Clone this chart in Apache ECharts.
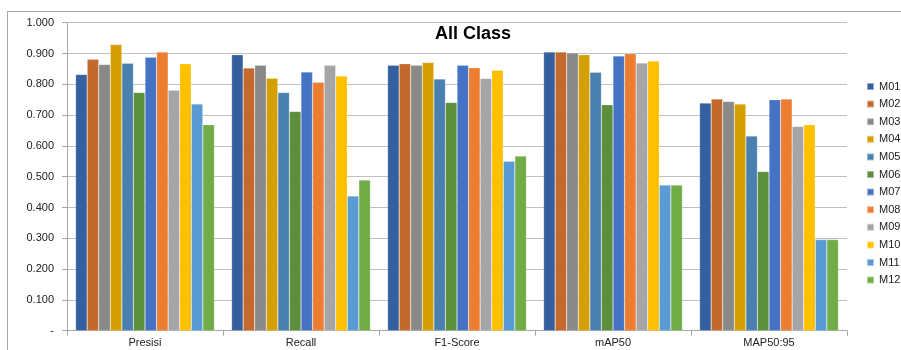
<!DOCTYPE html>
<html>
<head>
<meta charset="utf-8">
<script src="https://cdn.jsdelivr.net/npm/echarts@6/dist/echarts.min.js"></script>
<style>
  html, body { margin: 0; padding: 0; background: #fff; }
  #chart { width: 901px; height: 350px; }
</style>
</head>
<body>
<div id="chart"></div>
<script>
const categories = ['Presisi', 'Recall', 'F1-Score', 'mAP50', 'MAP50:95'];
const models = ['M01', 'M02', 'M03', 'M04', 'M05', 'M06', 'M07', 'M08', 'M09', 'M10', 'M11', 'M12'];
const colors = ['#365FA0', '#C4692D', '#898989', '#D49F00', '#4A80B0', '#5C8F3B',
                '#4472C4', '#ED7D31', '#A5A5A5', '#FFC000', '#5B9BD5', '#70AD47'];

// one array per model: Presisi, Recall, F1-Score, mAP50, MAP50:95
const M01 = [0.832, 0.896, 0.862, 0.905, 0.739];
const M02 = [0.881, 0.853, 0.867, 0.905, 0.752];
const M03 = [0.864, 0.862, 0.862, 0.902, 0.744];
const M04 = [0.929, 0.820, 0.871, 0.896, 0.736];
const M05 = [0.868, 0.773, 0.817, 0.839, 0.632];
const M06 = [0.773, 0.712, 0.741, 0.734, 0.517];
const M07 = [0.888, 0.840, 0.862, 0.892, 0.750];
const M08 = [0.905, 0.807, 0.854, 0.899, 0.752];
const M09 = [0.781, 0.862, 0.819, 0.869, 0.663];
const M10 = [0.867, 0.827, 0.846, 0.876, 0.669];
const M11 = [0.736, 0.437, 0.550, 0.473, 0.296];
const M12 = [0.669, 0.489, 0.567, 0.473, 0.296];
const values = [M01, M02, M03, M04, M05, M06, M07, M08, M09, M10, M11, M12];

const yTicks = [0, 0.1, 0.2, 0.3, 0.4, 0.5, 0.6, 0.7, 0.8, 0.9, 1.0];

const font = 'Liberation Sans, Arial, sans-serif';

const chart = echarts.init(document.getElementById('chart'));

const series = models.map((name, i) => ({
    name: name,
    type: 'bar',
    data: values[i],
    barGap: '0%',
    barCategoryGap: '11%',
    itemStyle: {
        color: colors[i],
        borderColor: 'rgba(255,255,255,0.45)',
        borderWidth: 0.5
    }
}));

const option = {
    animation: false,
    color: colors,
    title: {
        text: 'All Class',
        left: 435,
        top: 25,
        padding: 0,
        textStyle: { fontFamily: font, fontSize: 18, fontWeight: 'bold', color: '#000' }
    },
    legend: {
        orient: 'vertical',
        left: 866,
        top: 80,
        padding: 0,
        icon: 'rect',
        itemWidth: 7,
        itemHeight: 7,
        itemGap: 4.6,
        data: models,
        textStyle: { fontFamily: font, fontSize: 11, color: '#222', lineHeight: 13 }
    },
    grid: { left: 67, right: 54, top: 22.7, bottom: 19.3 },
    xAxis: {
        type: 'category',
        data: categories,
        axisLine: { lineStyle: { color: '#A6A6A6', width: 1 } },
        axisTick: { show: true, length: 5, lineStyle: { color: '#A6A6A6' } },
        axisLabel: { fontFamily: font, fontSize: 11, color: '#222', margin: 7 }
    },
    yAxis: {
        type: 'value',
        min: yTicks[0],
        max: yTicks[yTicks.length - 1],
        interval: 0.1,
        axisLine: { show: true, lineStyle: { color: '#A6A6A6', width: 1 } },
        axisTick: { show: true, length: 5, lineStyle: { color: '#A6A6A6' } },
        axisLabel: {
            fontFamily: font, fontSize: 11, color: '#222', margin: 13,
            formatter: v => (Math.abs(v) < 1e-9 ? '-' : v.toFixed(3))
        },
        splitLine: { lineStyle: { color: '#C0C0C0', width: 1 } }
    },
    graphic: [
        { type: 'line', shape: { x1: 7, y1: 11.5, x2: 901, y2: 11.5 }, style: { stroke: '#A6A6A6', lineWidth: 1 } },
        { type: 'line', shape: { x1: 7.5, y1: 11.5, x2: 7.5, y2: 350 }, style: { stroke: '#A6A6A6', lineWidth: 1 } }
    ],
    series: series
};

chart.setOption(option);
</script>
</body>
</html>
